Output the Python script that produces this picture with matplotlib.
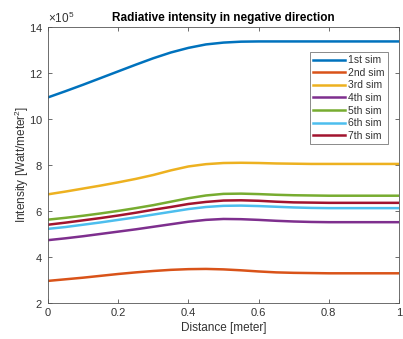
import matplotlib
matplotlib.use('Agg')
import matplotlib.pyplot as plt
import numpy as np

# distance along the slab [meter]
distance = np.linspace(0, 1, 21)

# intensity in negative direction, in units of 1e5 Watt/meter^2
sim1 = [10.93, 11.20, 11.48, 11.77, 12.06, 12.35, 12.63, 12.88, 13.08, 13.23, 13.31,
        13.35, 13.36, 13.36, 13.36, 13.36, 13.36, 13.36, 13.36, 13.36, 13.36]
sim2 = [2.96, 3.03, 3.10, 3.18, 3.26, 3.33, 3.39, 3.44, 3.47, 3.48, 3.46,
        3.42, 3.37, 3.33, 3.31, 3.30, 3.29, 3.29, 3.29, 3.29, 3.29]
sim3 = [6.72, 6.84, 6.97, 7.10, 7.24, 7.39, 7.56, 7.76, 7.93, 8.03, 8.08,
        8.09, 8.08, 8.06, 8.05, 8.04, 8.04, 8.04, 8.04, 8.04, 8.04]
sim4 = [4.73, 4.81, 4.90, 5.00, 5.10, 5.20, 5.31, 5.42, 5.53, 5.61, 5.65,
        5.64, 5.61, 5.57, 5.54, 5.52, 5.51, 5.51, 5.51, 5.51, 5.51]
sim5 = [5.62, 5.70, 5.79, 5.89, 6.00, 6.12, 6.25, 6.40, 6.55, 6.67, 6.74,
        6.75, 6.73, 6.70, 6.68, 6.67, 6.66, 6.66, 6.66, 6.66, 6.66]
sim6 = [5.22, 5.30, 5.40, 5.50, 5.61, 5.72, 5.84, 5.96, 6.08, 6.17, 6.22,
        6.23, 6.21, 6.18, 6.15, 6.13, 6.12, 6.12, 6.12, 6.12, 6.12]
sim7 = [5.40, 5.49, 5.59, 5.69, 5.80, 5.92, 6.05, 6.17, 6.30, 6.39, 6.45,
        6.46, 6.44, 6.40, 6.37, 6.36, 6.35, 6.35, 6.35, 6.35, 6.35]

labels = ['1st sim', '2nd sim', '3rd sim', '4th sim', '5th sim', '6th sim', '7th sim']
colors = ['#0072BD', '#D95319', '#EDB120', '#7E2F8E', '#77AC30', '#4DBEEE', '#A2142F']

plt.rcParams['font.family'] = ['Liberation Sans', 'DejaVu Sans']
plt.rcParams['mathtext.fontset'] = 'custom'
plt.rcParams['mathtext.rm'] = 'Liberation Sans'
plt.rcParams['mathtext.it'] = 'Liberation Sans'

axis_color = '#555555'
text_color = '#333333'

fig = plt.figure(figsize=(4.03, 3.39), dpi=100)
ax = fig.add_axes([48 / 403, 36 / 339, 351 / 403, 276.3 / 339])

for ys, lab, col in zip([sim1, sim2, sim3, sim4, sim5, sim6, sim7], labels, colors):
    ax.plot(distance, np.array(ys) * 1e5, color=col, linewidth=1.8, label=lab)

ax.set_xlim(0, 1)
ax.set_ylim(2e5, 14e5)
ax.set_xticks(np.arange(0, 1.01, 0.2))
ax.set_xticklabels(['0', '0.2', '0.4', '0.6', '0.8', '1'])
ax.set_yticks(np.arange(2e5, 14.1e5, 2e5))
ax.ticklabel_format(style='sci', axis='y', scilimits=(5, 5), useMathText=True)
ax.yaxis.get_offset_text().set_fontsize(8.5)
ax.yaxis.get_offset_text().set_color(text_color)

ax.tick_params(direction='in', length=3, width=0.6, colors=axis_color,
               labelcolor=text_color, labelsize=8, top=True, right=True)
for sp in ax.spines.values():
    sp.set_color(axis_color)
    sp.set_linewidth(0.6)

ax.set_title('Radiative intensity in negative direction', fontsize=8.5,
             fontweight='bold', pad=4)
ax.set_xlabel('Distance [meter]', fontsize=8.5, color=text_color, labelpad=3)
ax.set_ylabel('Intensity [Watt/meter$^2$]', fontsize=8.5, color=text_color, labelpad=-1)

leg = ax.legend(loc='upper right', bbox_to_anchor=(0.969, 0.908), borderaxespad=0,
                fontsize=7.5, handlelength=3.1, handletextpad=0.3,
                labelspacing=0.25, borderpad=0.3, fancybox=False, framealpha=1)
leg.get_frame().set_edgecolor('#777777')
leg.get_frame().set_linewidth(0.6)
for t in leg.get_texts():
    t.set_color(text_color)

fig.savefig('out.png', dpi=100)
